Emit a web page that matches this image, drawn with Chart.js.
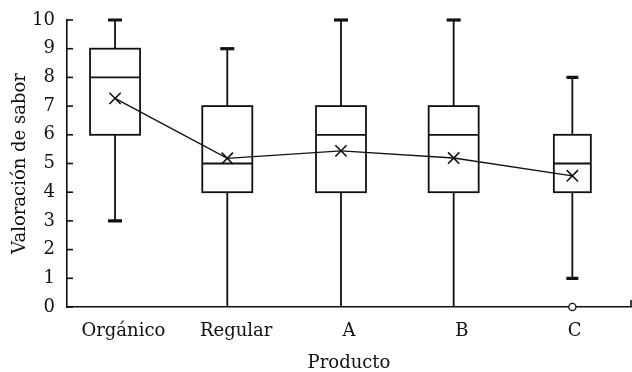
<!DOCTYPE html>
<html>
<head>
<meta charset="utf-8">
<script src="https://cdn.jsdelivr.net/npm/chart.js@4.4.1/dist/chart.umd.min.js"></script>
<style>
html, body { margin: 0; padding: 0; background: #fff; }
</style>
</head>
<body>
<canvas id="caja" width="632" height="372"></canvas>
<script>
// datos del diagrama de caja
const productos = ["Orgánico", "Regular", "A", "B", "C"];
const minimos = [3, 0, 0, 0, 1];
const cuartil1 = [6, 4, 4, 4, 4];
const medianas = [8, 5, 6, 6, 5];
const cuartil3 = [9, 7, 7, 7, 6];
const maximos = [10, 9, 10, 10, 8];
const medias = [7.27, 5.18, 5.44, 5.19, 4.57];
const atipicos = [[], [], [], [], [0]];
const y_ticks = [0, 1, 2, 3, 4, 5, 6, 7, 8, 9, 10];

// estilo
const tinta = "#111";
const fuente = "'DejaVu Serif', serif";
const ancho_caja = [50, 50, 50, 50, 37];
const ancho_tope = [14, 14, 14, 14, 12];
// las cajas quedan un poco a la izquierda del centro de cada categoria
const corrimiento = [-0.074, -0.079, -0.071, -0.072, -0.02];

//dibuja cajas, bigotes, medianas y las marcas del eje y hacia adentro
const cajasPlugin = {
    id: "cajas",
    beforeDatasetsDraw(chart){
        const ctx = chart.ctx;
        const x = chart.scales.x, y = chart.scales.y;
        const area = chart.chartArea;
        ctx.save();
        ctx.strokeStyle = tinta;
        ctx.lineCap = "butt";
        // marcas del eje y
        ctx.lineWidth = 1.6;
        for(const t of y_ticks){
            const py = y.getPixelForValue(t);
            ctx.beginPath();
            ctx.moveTo(area.left, py);
            ctx.lineTo(area.left + 6, py);
            ctx.stroke();
        }
        ctx.beginPath();
        ctx.moveTo(area.right, area.bottom);
        ctx.lineTo(area.right, area.bottom - 7);
        ctx.stroke();
        for(let i = 0; i < productos.length; i++){
            const cx = x.getPixelForValue(i + 1 + corrimiento[i]);
            const w = ancho_caja[i];
            const yq1 = y.getPixelForValue(cuartil1[i]);
            const yq3 = y.getPixelForValue(cuartil3[i]);
            const ymed = y.getPixelForValue(medianas[i]);
            const ymin = y.getPixelForValue(minimos[i]);
            const ymax = y.getPixelForValue(maximos[i]);
            ctx.lineWidth = 1.8;
            ctx.beginPath();
            ctx.moveTo(cx, yq3); ctx.lineTo(cx, ymax);
            ctx.moveTo(cx, yq1); ctx.lineTo(cx, ymin);
            ctx.stroke();
            ctx.fillStyle = "#fff";
            ctx.fillRect(cx - w/2, yq3, w, yq1 - yq3);
            ctx.strokeRect(cx - w/2, yq3, w, yq1 - yq3);
            ctx.beginPath();
            ctx.moveTo(cx - w/2, ymed); ctx.lineTo(cx + w/2, ymed);
            ctx.stroke();
            // topes gruesos
            ctx.lineWidth = 3.2;
            const c = ancho_tope[i] / 2;
            ctx.beginPath();
            if(maximos[i] > y.min){ ctx.moveTo(cx - c, ymax); ctx.lineTo(cx + c, ymax); }
            if(minimos[i] > y.min){ ctx.moveTo(cx - c, ymin); ctx.lineTo(cx + c, ymin); }
            ctx.stroke();
        }
        ctx.restore();
    }
};

const puntosMedia = medias.map((m, i) => ({x: i + 1 + corrimiento[i], y: m}));
const puntosAtipicos = [];
atipicos.forEach((lista, i) => lista.forEach(v => puntosAtipicos.push({x: i + 1 + corrimiento[i], y: v})));

const ctx = document.getElementById("caja");
const grafico = new Chart(ctx, {
    type: "scatter",
    data: {
        datasets: [{
            label: "media",
            data: puntosMedia,
            showLine: true,
            borderColor: tinta,
            borderWidth: 1.4,
            pointStyle: "crossRot",
            pointRadius: 8,
            pointBorderWidth: 1.6,
            pointBorderColor: tinta,
            pointBackgroundColor: "rgba(0,0,0,0)"
        },{
            label: "atipicos",
            data: puntosAtipicos,
            pointStyle: "circle",
            pointRadius: 3.6,
            pointBorderWidth: 1.3,
            pointBorderColor: tinta,
            pointBackgroundColor: "#fff",
            clip: false
        }]
    },
    plugins: [cajasPlugin],
    options: {
        responsive: false,
        devicePixelRatio: 1,
        animation: false,
        layout: { autoPadding: false, padding: { top: 20, right: 1, left: 0, bottom: 0 } },
        plugins: {
            legend: { display: false },
            tooltip: { enabled: false }
        },
        scales: {
            x: {
                type: "linear",
                min: 0.5,
                max: 5.5,
                afterBuildTicks: (s) => { s.ticks = productos.map((p, i) => ({value: i + 1})); },
                afterFit: (s) => { s.height = 65; s.paddingLeft = 0; s.paddingRight = 0; },
                grid: { display: false, drawTicks: false },
                border: { display: true, color: tinta, width: 1.6 },
                ticks: {
                    autoSkip: false,
                    maxRotation: 0,
                    padding: 14,
                    color: tinta,
                    font: { family: fuente, size: 18 },
                    callback: (v) => productos[v - 1]
                },
                title: {
                    display: true,
                    text: "Producto",
                    color: tinta,
                    font: { family: fuente, size: 18, lineHeight: 1 },
                    padding: { top: 0, bottom: 0 }
                }
            },
            y: {
                min: 0,
                max: 10,
                afterBuildTicks: (s) => { s.ticks = y_ticks.map(v => ({value: v})); },
                afterFit: (s) => { s.width = 67; s.paddingTop = 0; s.paddingBottom = 0; },
                grid: { display: false, drawTicks: false },
                border: { display: true, color: tinta, width: 1.6 },
                ticks: {
                    padding: 12,
                    color: tinta,
                    font: { family: fuente, size: 18 }
                },
                title: {
                    display: true,
                    text: "Valoración de sabor",
                    color: tinta,
                    font: { family: fuente, size: 18, lineHeight: 1 },
                    padding: { top: 11, bottom: 0 }
                }
            }
        }
    }
});
</script>
</body>
</html>
